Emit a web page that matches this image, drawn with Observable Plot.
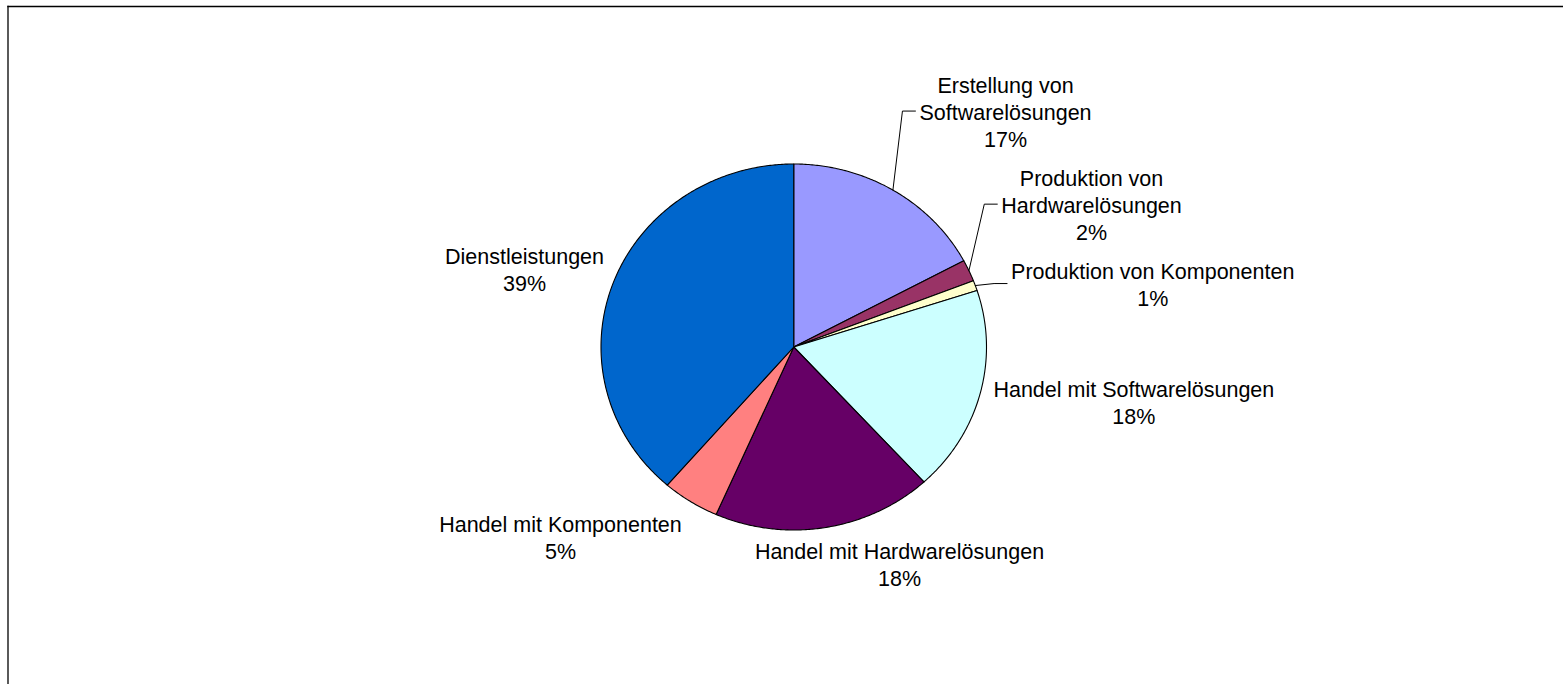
<!DOCTYPE html>
<html>
<head>
<meta charset="utf-8">
<script src="https://cdn.jsdelivr.net/npm/d3@7"></script>
<script src="https://cdn.jsdelivr.net/npm/@observablehq/plot@0.6"></script>
<style>
  html, body { margin: 0; padding: 0; background: #fff; }
  #chart svg { display: block; }
</style>
</head>
<body>
<div id="chart"></div>
<script>
// ---- data ----
const categories = [
  "Erstellung von Softwarelösungen",
  "Produktion von Hardwarelösungen",
  "Produktion von Komponenten",
  "Handel mit Softwarelösungen",
  "Handel mit Hardwarelösungen",
  "Handel mit Komponenten",
  "Dienstleistungen"
];
const labelNames = [
  "Erstellung von\nSoftwarelösungen",
  "Produktion von\nHardwarelösungen",
  "Produktion von Komponenten",
  "Handel mit Softwarelösungen",
  "Handel mit Hardwarelösungen",
  "Handel mit Komponenten",
  "Dienstleistungen"
];
const shares = [17.2, 1.9, 0.9, 18.2, 18.4, 4.8, 38.6];
const colors = ["#9999FF", "#993366", "#FFFFCC", "#CCFFFF", "#660066", "#FF8080", "#0066CC"];

// ---- layout (pixels) ----
const W = 1563, H = 684;
const cx = 793.25, cy = 346.5, rx = 192.75, ry = 183;
const fontSize = 21.5, lineHeight = 1.25;
const fontFamily = "'Liberation Sans', Arial, Helvetica, sans-serif";
// label block centre offset from the slice's mid-angle rim point
const labelOffset = [[112.6, -79], [122.6, -66.5], [177.4, -2], [153.7, 8], [74.4, 36.5], [-130, 35.5], [-88.7, -14]];
const hasLeader = [true, true, true, false, false, false, false];

// ---- geometry in unit coordinates (angle clockwise from 12 o'clock) ----
const total = d3.sum(shares);
let acc = 0;
const slices = categories.map((name, i) => {
  const a0 = acc / total * 2 * Math.PI;
  acc += shares[i];
  const a1 = acc / total * 2 * Math.PI;
  return {name, i, a0, a1, mid: (a0 + a1) / 2};
});

const slicePts = [];
for (const s of slices) {
  slicePts.push({name: s.name, x: 0, y: 0});
  const n = Math.max(2, Math.ceil((s.a1 - s.a0) / (Math.PI / 360)));
  for (let k = 0; k <= n; k++) {
    const a = s.a0 + (s.a1 - s.a0) * k / n;
    slicePts.push({name: s.name, x: Math.sin(a), y: Math.cos(a)});
  }
}

const ctx = document.createElement("canvas").getContext("2d");
ctx.font = `${fontSize}px ${fontFamily}`;

const labels = [];
const leaderPts = [];
for (const s of slices) {
  const ux = Math.sin(s.mid), uy = Math.cos(s.mid);
  const [dx, dy] = labelOffset[s.i];
  const lx = ux + dx / rx, ly = uy - dy / ry;
  const text = labelNames[s.i] + "\n" + Math.round(shares[s.i] / total * 100) + "%";
  labels.push({name: s.name, x: lx, y: ly, text});
  if (hasLeader[s.i]) {
    const wMax = d3.max(text.split("\n"), t => ctx.measureText(t).width);
    const left = lx - (wMax / 2) / rx;
    const yy = ly + 0 / ry;
    leaderPts.push({name: s.name, x: ux, y: uy});
    leaderPts.push({name: s.name, x: left - 17 / rx, y: yy});
    leaderPts.push({name: s.name, x: left - 4 / rx, y: yy});
  }
}

const chart = Plot.plot({
  width: W,
  height: H,
  marginTop: 6,
  marginLeft: 7.5,
  marginRight: 0,
  marginBottom: 0,
  x: {domain: [-1, 1], range: [cx - rx, cx + rx], axis: null},
  y: {domain: [-1, 1], range: [cy + ry, cy - ry], axis: null},
  color: {domain: categories, range: colors},
  style: {fontFamily, fontSize: fontSize + "px", background: "#fff", color: "#000", overflow: "visible"},
  marks: [
    Plot.frame({anchor: "top", stroke: "#000", strokeWidth: 1.3}),
    Plot.frame({anchor: "left", stroke: "#000", strokeWidth: 1.3}),
    Plot.line(slicePts, {x: "x", y: "y", z: "name", fill: "name", stroke: "#000", strokeWidth: 1.1, curve: "linear-closed"}),
    Plot.line(leaderPts, {x: "x", y: "y", z: "name", stroke: "#000", strokeWidth: 1}),
    Plot.text(labels, {x: "x", y: "y", text: "text", fill: "#000", fontSize, lineHeight, textAnchor: "middle", lineAnchor: "middle"})
  ]
});
document.getElementById("chart").appendChild(chart);
</script>
</body>
</html>
